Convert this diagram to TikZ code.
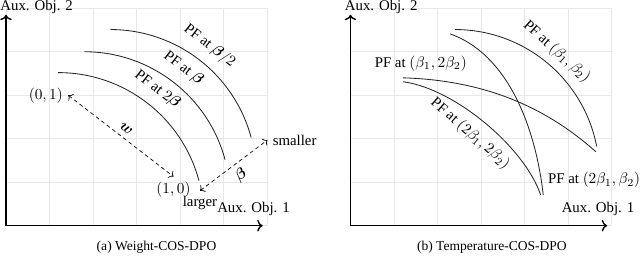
\documentclass[tikz,border=0pt]{standalone}
\usepackage{amsmath}
\usepackage[no-math]{fontspec}
\setmainfont{Liberation Serif}
\usetikzlibrary{arrows.meta}
\begin{document}
\begin{tikzpicture}[x=1cm,y=1cm,
  font=\fontsize{9.7}{11.6}\selectfont,
  gridline/.style={gray!18, line width=0.4pt},
  axis/.style={<->, line width=0.9pt},
  pf/.style={line width=0.55pt, black!85},
  darrow/.style={<->, dash pattern=on 2.5pt off 2pt, line width=0.45pt},
  capt/.style={font=\fontsize{8.85}{10.6}\selectfont}]
\useasboundingbox (-0.138,-0.697) rectangle (14.575,5.189);
% ---------- left panel ----------
\begin{scope}
\draw[gridline] (0,0) grid (6,5);
\coordinate (aO) at (0,0);
\coordinate (aX) at (5.9,0);
\coordinate (aY) at (0,4.85);
\draw[axis] (aY) -- (aO) -- (aX);
\node (aXl) at (5.69,0.39) {Aux. Obj. 1};
\node (aYl) at (0.705,5.03) {Aux. Obj. 2};
\coordinate (aS1) at (1.2,3.52);
\coordinate (aS2) at (1.8,4.0);
\coordinate (aS3) at (2.4,4.51);
\draw[pf] (aS1) arc[start angle=90, end angle=15, radius=3.35];
\draw[pf] (aS2) arc[start angle=90, end angle=15, radius=3.35];
\draw[pf] (aS3) arc[start angle=90, end angle=15, radius=3.35];
\node[rotate=-37.5] (aP1) at (3.48,3.14) {PF at $2\boldsymbol{\beta}$};
\node[rotate=-37.5] (aP2) at (4.08,3.62) {PF at $\boldsymbol{\beta}$};
\node[rotate=-37.5] (aP3) at (4.68,4.13) {PF at $\boldsymbol{\beta}/2$};
\coordinate (wa) at (1.43,3.0);
\coordinate (wb) at (3.85,1.13);
\draw[darrow] (wa) -- node[sloped, above] (wl) {$\boldsymbol{w}$} (wb);
\node[left] (n01) at (wa) {$(0,1)$};
\node[below] (n10) at (wb) {$(1,0)$};
\coordinate (ba) at (4.46,0.805);
\coordinate (bb) at (6.01,1.97);
\draw[darrow] (ba) -- node[sloped, below] (bl) {$\boldsymbol{\beta}$} (bb);
\node[below] (lg) at (ba) {larger};
\node[right] (sm) at (bb) {smaller};
\node[capt] (capa) at (3.46,-0.49) {(a) Weight-COS-DPO};
\end{scope}
% ---------- right panel ----------
\begin{scope}[xshift=7.92cm]
\draw[gridline] (0,0) grid (6,5);
\coordinate (bO) at (0,0);
\coordinate (bX) at (5.9,0);
\coordinate (bY) at (0,4.85);
\draw[axis] (bY) -- (bO) -- (bX);
\node (bXl) at (5.69,0.39) {Aux. Obj. 1};
\node (bYl) at (0.705,5.03) {Aux. Obj. 2};
\draw[pf] (2.40,4.51) arc[start angle=90, end angle=11, radius=3.32];
\draw[pf] (2.29,4.41) .. controls (3.6,3.95) and (4.25,2.3) .. (4.43,0.71);
\draw[pf] (1.21,3.40) .. controls (2.8,3.35) and (4.3,2.9) .. (5.64,1.70);
\draw[pf] (1.21,3.31) .. controls (2.4,3.15) and (4.0,1.8) .. (4.37,0.71);
\node (bL1) at (1.615,3.73) {PF at $(\beta_1,2\beta_2)$};
\node (bL2) at (5.6,1.05) {PF at $(2\beta_1,\beta_2)$};
\node[rotate=-42] (bL3) at (4.74,4.0) {PF at $(\beta_1,\beta_2)$};
\node[rotate=-41] (bL4) at (2.75,2.12) {PF at $(2\beta_1,2\beta_2)$};
\node[capt] (capb) at (3.25,-0.49) {(b) Temperature-COS-DPO};
\end{scope}
\end{tikzpicture}
\end{document}
